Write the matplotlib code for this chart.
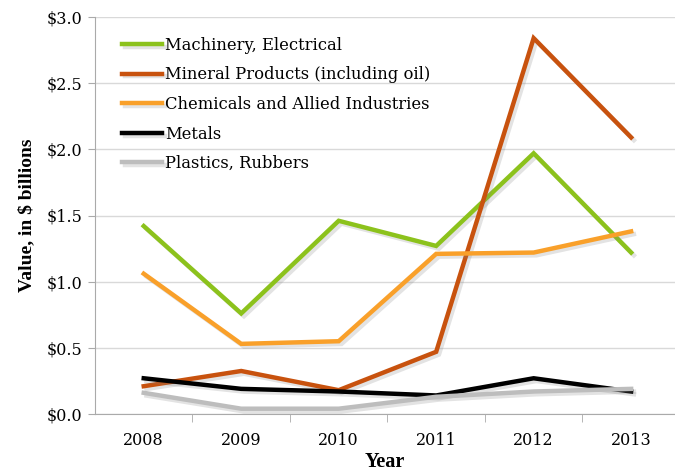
import matplotlib
matplotlib.use("Agg")
import matplotlib.pyplot as plt
import matplotlib.patheffects as pe
import numpy as np

years = ["2008", "2009", "2010", "2011", "2012", "2013"]
machinery = [1.42, 0.76, 1.46, 1.27, 1.97, 1.22]
mineral = [0.21, 0.325, 0.18, 0.47, 2.84, 2.09]
chemicals = [1.06, 0.53, 0.55, 1.21, 1.22, 1.38]
metals = [0.27, 0.19, 0.17, 0.14, 0.27, 0.17]
plastics = [0.16, 0.04, 0.04, 0.13, 0.17, 0.19]

series = [
    ("Machinery, Electrical", machinery, "#8cc21c"),
    ("Mineral Products (including oil)", mineral, "#c8520e"),
    ("Chemicals and Allied Industries", chemicals, "#f9a02a"),
    ("Metals", metals, "#000000"),
    ("Plastics, Rubbers", plastics, "#bdbdbd"),
]
yticks = [0.0, 0.5, 1.0, 1.5, 2.0, 2.5, 3.0]
ytick_labels = ["$0.0", "$0.5", "$1.0", "$1.5", "$2.0", "$2.5", "$3.0"]

plt.rcParams['font.family'] = ['DejaVu Serif']
fig = plt.figure(figsize=(6.75, 4.75), dpi=100)
ax = fig.add_axes([95/675, 1 - 414/475, (675-95)/675, (414-17)/475])

x = np.arange(len(years))
shadow = [pe.SimpleLineShadow(offset=(2, -2), shadow_color="gray", alpha=0.22), pe.Normal()]
for name, vals, col in series:
    ax.plot(x, vals, color=col, lw=3.2, label=name, path_effects=shadow,
            solid_joinstyle="miter")

ax.set_xlim(-0.5, 5.45)
ax.set_ylim(0, 3.0)
ax.set_yticks(yticks)
ax.set_yticklabels(ytick_labels, fontsize=11.5)
ax.set_xticks(x)
ax.set_xticklabels(years, fontsize=11.5)
ax.set_xticks(np.arange(-0.5, 5.5, 1.0)[1:], minor=True)
ax.tick_params(axis="x", which="major", length=0, pad=13)
ax.tick_params(axis="x", which="minor", length=6, color="#aaaaaa", direction="out")
ax.tick_params(axis="y", length=5, color="#aaaaaa", direction="out", pad=4)

ax.grid(axis="y", color="#d9d9d9", lw=1)
ax.set_axisbelow(True)
for s in ["top", "right"]:
    ax.spines[s].set_visible(False)
for s in ["left", "bottom"]:
    ax.spines[s].set_color("#aaaaaa")

ax.set_ylabel("Value, in $ billions", fontsize=14, fontweight="bold", labelpad=8,
              family=["Liberation Serif"])
ax.set_xlabel("Year", fontsize=14.5, fontweight="bold", labelpad=2,
              family=["Liberation Serif"])

leg = ax.legend(loc="upper left", frameon=False, fontsize=11.8, handlelength=2.45,
                handletextpad=0.2, labelspacing=0.77, borderaxespad=0,
                bbox_to_anchor=(0.035, 0.967))

fig.savefig("out.png", dpi=100)
